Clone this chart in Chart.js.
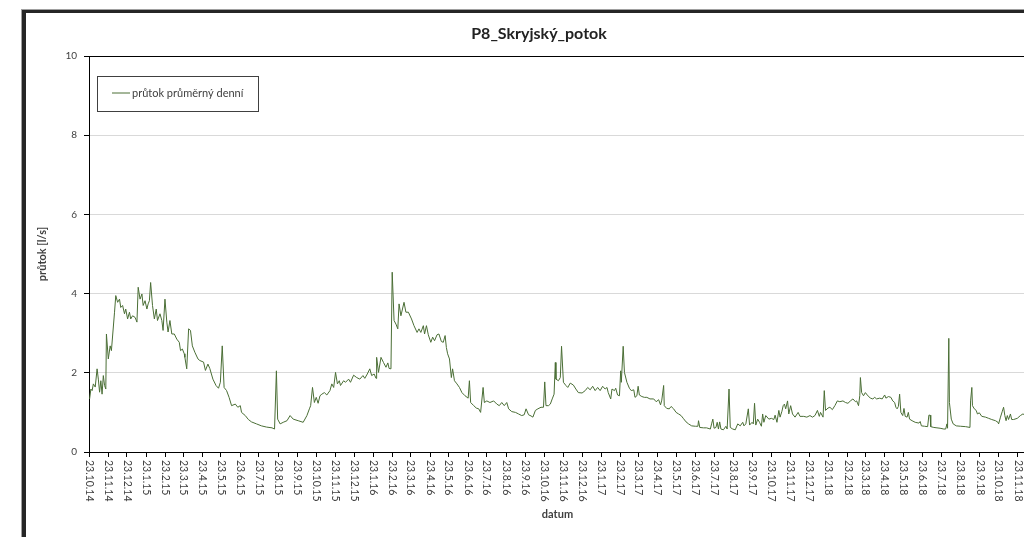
<!DOCTYPE html>
<html>
<head>
<meta charset="utf-8">
<script src="https://cdn.jsdelivr.net/npm/chart.js@4.4.1/dist/chart.umd.min.js"></script>
<style>
  html, body { margin: 0; padding: 0; background: #fff; overflow: hidden; }
  body { width: 1024px; height: 537px; position: relative; }
  .frame {
    position: absolute; left: 22px; top: 10px; width: 1100px; height: 600px;
    border-left: 4px solid #262626; border-top: 3px solid #262626;
    box-shadow: -1px -1px 0 #a0a0a0;
  }
  #chart { position: absolute; left: 26px; top: 13px; }
</style>
</head>
<body>
<div class="frame"></div>
<canvas id="chart" width="1024" height="524"></canvas>
<script>
const chartTitle = 'P8_Skryjský_potok';
const seriesLabel = 'průtok průměrný denní';

// month ticks on the date axis
const tickLabels = [
  '23.10.14', '23.11.14', '23.12.14',
  '23.1.15', '23.2.15', '23.3.15', '23.4.15', '23.5.15', '23.6.15',
  '23.7.15', '23.8.15', '23.9.15', '23.10.15', '23.11.15', '23.12.15',
  '23.1.16', '23.2.16', '23.3.16', '23.4.16', '23.5.16', '23.6.16',
  '23.7.16', '23.8.16', '23.9.16', '23.10.16', '23.11.16', '23.12.16',
  '23.1.17', '23.2.17', '23.3.17', '23.4.17', '23.5.17', '23.6.17',
  '23.7.17', '23.8.17', '23.9.17', '23.10.17', '23.11.17', '23.12.17',
  '23.1.18', '23.2.18', '23.3.18', '23.4.18', '23.5.18', '23.6.18',
  '23.7.18', '23.8.18', '23.9.18', '23.10.18', '23.11.18'
];

// days since 23.10.2014
const days = [
  1, 3, 5, 7, 10, 13, 15, 17, 19, 21, 23, 25, 27, 28, 31, 34, 36, 41, 43, 46,
  49, 51, 54, 57, 59, 62, 65, 67, 70, 74, 77, 79, 82, 85, 87, 90, 93, 95, 97, 99,
  102, 105, 108, 110, 114, 117, 119, 122, 125, 127, 130, 133, 137, 141, 145, 147, 150, 153, 154, 157,
  160, 163, 166, 170, 175, 178, 184, 187, 191, 194, 199, 204, 208, 211, 214, 217, 221, 225, 229, 235,
  239, 243, 245, 251, 256, 261, 269, 277, 285, 294, 298, 301, 303, 307, 312, 318, 323, 328, 336, 344,
  350, 354, 356, 359, 362, 365, 368, 371, 374, 378, 382, 387, 390, 393, 396, 399, 402, 404, 409, 412,
  417, 420, 425, 430, 435, 440, 443, 447, 451, 454, 458, 461, 462, 465, 469, 473, 477, 480, 482, 485,
  487, 490, 493, 496, 498, 501, 506, 509, 513, 518, 522, 527, 530, 533, 537, 539, 542, 545, 549, 552,
  555, 559, 562, 566, 569, 572, 574, 576, 579, 582, 584, 587, 591, 595, 599, 604, 609, 611, 613, 618,
  622, 626, 629, 633, 635, 639, 644, 650, 655, 659, 663, 667, 671, 674, 679, 685, 690, 695, 699, 702,
  706, 710, 713, 717, 721, 726, 730, 732, 734, 738, 741, 744, 747, 749, 750, 754, 757, 759, 762, 766,
  769, 773, 778, 782, 786, 792, 797, 801, 805, 809, 813, 817, 821, 825, 829, 832, 834, 838, 840, 844,
  846, 849, 852, 854, 855, 858, 860, 864, 868, 871, 875, 877, 880, 882, 884, 888, 892, 896, 901, 907,
  911, 915, 918, 920, 923, 924, 928, 932, 935, 939, 943, 947, 951, 955, 959, 963, 968, 974, 978, 979,
  981, 987, 992, 998, 1000, 1002, 1004, 1007, 1009, 1011, 1013, 1015, 1019, 1023, 1025, 1028, 1030, 1034, 1038, 1042,
  1046, 1050, 1052, 1055, 1059, 1061, 1065, 1067, 1069, 1071, 1074, 1077, 1080, 1082, 1084, 1087, 1092, 1096, 1100, 1102,
  1105, 1108, 1110, 1113, 1115, 1117, 1119, 1122, 1124, 1127, 1130, 1134, 1139, 1142, 1148, 1153, 1158, 1162, 1166, 1170,
  1173, 1175, 1179, 1181, 1183, 1187, 1190, 1194, 1198, 1202, 1206, 1211, 1215, 1219, 1223, 1227, 1231, 1233, 1236, 1238,
  1239, 1241, 1244, 1247, 1250, 1255, 1259, 1262, 1265, 1270, 1274, 1278, 1280, 1284, 1288, 1291, 1294, 1296, 1298, 1300,
  1302, 1304, 1307, 1309, 1311, 1314, 1316, 1318, 1322, 1327, 1333, 1335, 1337, 1342, 1347, 1349, 1351, 1352, 1357, 1362,
  1367, 1373, 1376, 1378, 1379, 1381, 1382, 1385, 1388, 1393, 1400, 1408, 1415, 1416, 1418, 1419, 1422, 1425, 1427, 1430,
  1434, 1440, 1445, 1450, 1456, 1460, 1461, 1464, 1467, 1469, 1471, 1473, 1475, 1477, 1480, 1482, 1485, 1491, 1496, 1500, 1503
];

// daily mean flow [l/s]
const flow = [
  1.34, 1.59, 1.55, 1.72, 1.64, 2.10, 1.84, 1.51, 1.80, 1.46, 1.93, 1.68, 1.59, 2.98, 2.35, 2.68, 2.56, 3.53, 3.95, 3.78,
  3.86, 3.65, 3.70, 3.49, 3.61, 3.36, 3.53, 3.36, 3.44, 3.40, 3.28, 4.16, 3.86, 3.99, 3.70, 3.82, 3.61, 3.74, 3.82, 4.28,
  3.70, 3.36, 3.61, 3.32, 3.49, 3.32, 3.07, 3.86, 3.28, 3.03, 3.32, 2.98, 2.98, 2.85, 2.77, 2.56, 2.60, 2.48, 2.39, 2.10,
  3.11, 3.07, 2.68, 2.52, 2.35, 2.31, 2.27, 2.06, 2.22, 2.11, 1.84, 1.68, 1.61, 1.76, 2.68, 1.63, 1.55, 1.38, 1.17, 1.21,
  1.13, 1.17, 1.00, 0.92, 0.82, 0.76, 0.71, 0.66, 0.63, 0.61, 0.58, 2.05, 0.83, 0.71, 0.75, 0.79, 0.92, 0.83, 0.79, 0.75,
  0.92, 1.09, 1.17, 1.63, 1.25, 1.38, 1.23, 1.42, 1.46, 1.50, 1.44, 1.55, 1.72, 1.63, 2.01, 1.72, 1.80, 1.68, 1.80, 1.76,
  1.84, 1.76, 1.94, 1.88, 1.84, 1.93, 1.86, 1.97, 2.10, 1.93, 1.97, 1.86, 2.39, 2.01, 2.39, 2.26, 2.14, 2.25, 2.11, 2.10,
  4.54, 3.32, 3.23, 3.11, 3.74, 3.44, 3.78, 3.53, 3.53, 3.36, 3.19, 3.02, 3.11, 3.02, 3.19, 2.98, 3.19, 2.96, 2.77, 2.90,
  2.81, 2.96, 2.98, 2.79, 2.77, 2.94, 2.64, 2.48, 2.35, 1.88, 2.10, 1.80, 1.72, 1.63, 1.50, 1.42, 1.36, 1.80, 1.25, 1.17,
  1.11, 1.09, 1.00, 1.63, 1.25, 1.29, 1.25, 1.29, 1.21, 1.17, 1.25, 1.17, 1.25, 1.09, 1.02, 1.00, 0.96, 0.92, 0.94, 1.09,
  0.94, 0.91, 0.88, 1.05, 1.09, 1.13, 1.13, 1.77, 1.17, 1.17, 1.21, 1.34, 1.46, 2.26, 1.84, 1.80, 1.88, 2.67, 1.76, 1.68,
  1.63, 1.74, 1.69, 1.59, 1.50, 1.49, 1.55, 1.63, 1.57, 1.66, 1.55, 1.63, 1.55, 1.66, 1.59, 1.63, 1.50, 1.34, 1.59, 1.55,
  1.61, 1.44, 1.42, 2.05, 1.76, 2.67, 2.01, 1.76, 1.61, 1.55, 1.57, 1.38, 1.42, 1.66, 1.44, 1.40, 1.38, 1.38, 1.34, 1.34,
  1.27, 1.32, 1.19, 1.31, 1.68, 1.17, 1.10, 1.09, 1.15, 1.09, 1.00, 0.96, 0.92, 0.84, 0.76, 0.71, 0.66, 0.65, 0.65, 0.79,
  0.62, 0.61, 0.61, 0.58, 0.71, 0.83, 0.60, 0.62, 0.75, 0.58, 0.76, 0.58, 0.56, 0.65, 0.58, 1.59, 0.62, 0.58, 0.56, 0.71,
  0.66, 0.75, 0.66, 0.71, 1.09, 0.68, 0.75, 0.71, 1.23, 0.68, 0.83, 0.75, 0.65, 0.96, 0.75, 0.92, 0.83, 0.85, 0.82, 0.93,
  0.75, 1.05, 0.88, 1.03, 1.17, 1.21, 1.09, 1.29, 0.96, 1.17, 0.96, 0.88, 1.00, 0.90, 0.90, 0.88, 0.92, 0.88, 0.92, 1.05,
  0.90, 1.00, 0.88, 1.55, 1.05, 1.11, 1.13, 1.07, 1.17, 1.29, 1.27, 1.29, 1.25, 1.23, 1.29, 1.34, 1.27, 1.29, 1.17, 1.42,
  1.88, 1.50, 1.42, 1.50, 1.44, 1.36, 1.34, 1.38, 1.34, 1.36, 1.34, 1.44, 1.36, 1.40, 1.38, 1.29, 1.25, 1.13, 1.09, 1.15,
  1.46, 1.00, 0.92, 1.10, 0.90, 0.88, 1.00, 0.83, 0.79, 0.75, 0.73, 0.77, 0.66, 0.65, 0.64, 0.93, 0.93, 0.64, 0.62, 0.61,
  0.60, 0.58, 0.58, 0.71, 0.60, 2.87, 1.25, 0.83, 0.71, 0.66, 0.65, 0.64, 0.62, 1.29, 1.63, 1.17, 1.09, 1.05, 0.96, 0.99,
  0.90, 0.88, 0.85, 0.82, 0.79, 0.75, 0.71, 0.88, 1.03, 1.13, 0.92, 0.79, 0.92, 0.82, 0.96, 0.82, 0.82, 0.85, 0.92, 0.96, 0.94
];

const FONT = 'Lato, Carlito, Calibri, sans-serif';
const TEXT = '#404040';
const LINE = '#4a6e35';

const startUTC = Date.UTC(2014, 9, 23);
function labelToDay(s) {
  const [d, m, y] = s.split('.').map(Number);
  return Math.round((Date.UTC(2000 + y, m - 1, d) - startUTC) / 864e5);
}
const tickDays = tickLabels.map(labelToDay);

// the whole chart is wider than the window, so centre the title on that
const chartTitleBox = {
  id: 'chartTitleBox',
  afterDraw(chart) {
    const { ctx } = chart;
    ctx.save();
    ctx.font = 'bold 16px ' + FONT;
    ctx.fillStyle = '#222';
    ctx.textAlign = 'center';
    ctx.textBaseline = 'middle';
    ctx.fillText(chartTitle, 513, 21);
    ctx.restore();
  }
};

// x labels read top to bottom, like the spreadsheet original
const monthLabels = {
  id: 'monthLabels',
  afterDraw(chart) {
    const { ctx, scales: { x } } = chart;
    ctx.save();
    ctx.font = '10.5px ' + FONT;
    ctx.fillStyle = TEXT;
    ctx.textAlign = 'left';
    ctx.textBaseline = 'middle';
    tickLabels.forEach((lab, i) => {
      const px = x.getPixelForValue(tickDays[i]);
      ctx.save();
      ctx.translate(px, x.top + 8);
      ctx.rotate(Math.PI / 2);
      ctx.fillText(lab, 0, 0);
      ctx.restore();
    });
    ctx.restore();
  }
};

const boxLegend = {
  id: 'boxLegend',
  afterDraw(chart) {
    const { ctx, chartArea: a } = chart;
    const ds = chart.data.datasets[0];
    const x0 = a.left + 8, y0 = a.top + 20, w = 161, h = 35;
    ctx.save();
    ctx.fillStyle = '#fff';
    ctx.fillRect(x0, y0, w, h);
    ctx.strokeStyle = TEXT;
    ctx.lineWidth = 1;
    ctx.strokeRect(x0 + 0.5, y0 + 0.5, w, h);
    ctx.strokeStyle = ds.borderColor;
    ctx.beginPath();
    ctx.moveTo(x0 + 15, y0 + 17);
    ctx.lineTo(x0 + 33, y0 + 17);
    ctx.stroke();
    ctx.fillStyle = TEXT;
    ctx.font = '11px ' + FONT;
    ctx.textBaseline = 'middle';
    ctx.fillText(ds.label, x0 + 35, y0 + 17.5);
    ctx.restore();
  }
};

new Chart(document.getElementById('chart'), {
  type: 'line',
  data: {
    datasets: [{
      label: seriesLabel,
      data: days.map((d, i) => ({ x: d, y: flow[i] })),
      borderColor: LINE,
      borderWidth: 1,
      pointRadius: 0,
      tension: 0,
      fill: false
    }]
  },
  options: {
    responsive: false,
    animation: false,
    devicePixelRatio: 1,
    layout: { padding: { left: 0, right: 24, top: 43, bottom: 0 } },
    plugins: {
      legend: { display: false },
      tooltip: { enabled: false },
      title: { display: false }
    },
    scales: {
      x: {
        type: 'linear',
        min: 0,
        max: 1505,
        afterBuildTicks: (s) => { s.ticks = tickDays.map((v) => ({ value: v })); },
        afterFit: (s) => { s.height = 85; },
        ticks: { display: false },
        grid: { drawOnChartArea: false, drawTicks: true, tickLength: 5, tickColor: '#000' },
        border: { color: '#000', width: 1 },
        title: {
          display: true,
          text: 'datum',
          color: TEXT,
          font: { family: FONT, size: 11, weight: 'bold' },
          padding: { bottom: 16 }
        }
      },
      y: {
        min: 0,
        max: 10,
        afterFit: (s) => { s.width = 63; },
        ticks: { stepSize: 2, padding: 7, color: TEXT, font: { family: FONT, size: 10 } },
        grid: {
          color: (c) => (c.tick.value === 10 ? '#000' : '#d9d9d9'),
          tickLength: 5,
          tickColor: '#000'
        },
        border: { color: '#000', width: 1 },
        title: {
          display: true,
          text: 'průtok [l/s]',
          color: TEXT,
          font: { family: FONT, size: 11, weight: 'bold' },
          padding: { top: 10 }
        }
      }
    }
  },
  plugins: [chartTitleBox, monthLabels, boxLegend]
});
</script>
</body>
</html>
